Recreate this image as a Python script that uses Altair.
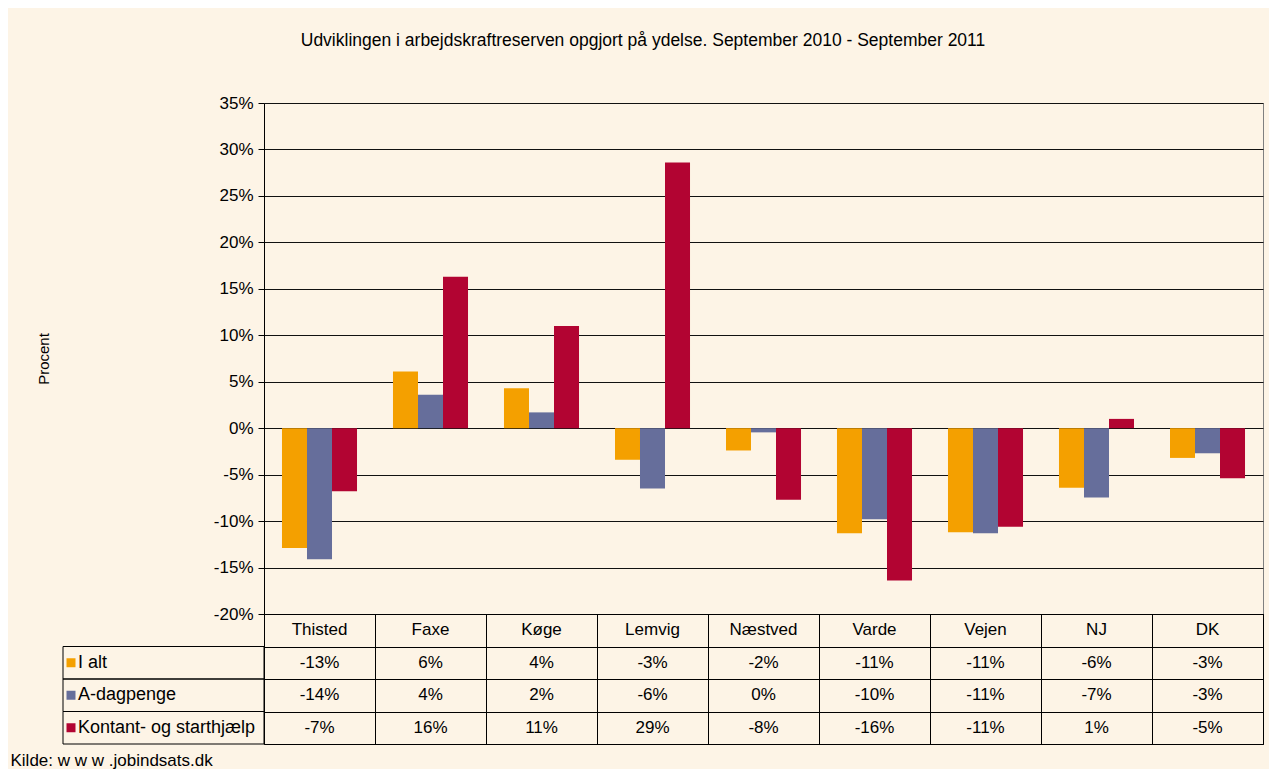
import altair as alt
import pandas as pd

categories = ["Thisted", "Faxe", "Køge", "Lemvig", "Næstved", "Varde", "Vejen", "NJ", "DK"]
series = ["I alt", "A-dagpenge", "Kontant- og starthjælp"]
i_alt = [-12.9, 6.1, 4.3, -3.4, -2.4, -11.3, -11.2, -6.4, -3.2]
a_dagpenge = [-14.1, 3.6, 1.7, -6.5, -0.45, -9.8, -11.3, -7.45, -2.7]
kontant = [-6.8, 16.3, 11.0, 28.6, -7.7, -16.4, -10.6, 1.0, -5.4]
colors = ["#F4A000", "#666E9B", "#B20432"]
y_ticks = [-20, -15, -10, -5, 0, 5, 10, 15, 20, 25, 30, 35]

title_text = "Udviklingen i arbejdskraftreserven opgjort på ydelse. September 2010 - September 2011"
source_text = "Kilde: w w w .jobindsats.dk"

FONT = "Liberation Sans"
FS = 17
BG = "#FDF4E6"
PLOT_W, PLOT_H = 999, 511
LEG_W, TAB_H = 201, 130

values = {"I alt": i_alt, "A-dagpenge": a_dagpenge, "Kontant- og starthjælp": kontant}
rows = []
for s in series:
    for c, v in zip(categories, values[s]):
        rows.append({"cat": c, "series": s, "value": v, "label": f"{int(round(v))}%"})
df = pd.DataFrame(rows)

row_order = ["hdr"] + series
tab_rows = [{"cat": c, "row": "hdr", "text": c} for c in categories]
tab_rows += [{"cat": r["cat"], "row": r["series"], "text": r["label"]} for r in rows]
tab_df = pd.DataFrame(tab_rows)
leg_df = pd.DataFrame({"row": series, "series": series})

color_scale = alt.Scale(domain=series, range=colors)
x_scale = alt.Scale(domain=categories, paddingInner=0.324, paddingOuter=0.162)

bars = alt.Chart(df).mark_bar().encode(
    x=alt.X("cat:N", scale=x_scale, axis=None, sort=categories),
    xOffset=alt.XOffset("series:N", sort=series, scale=alt.Scale(domain=series, paddingInner=0, paddingOuter=0)),
    y=alt.Y("value:Q", scale=alt.Scale(domain=[-20, 35], nice=False, zero=False),
            axis=alt.Axis(values=y_ticks, labelExpr="datum.value + '%'", grid=True,
                          gridColor="#111111", gridWidth=1, domainColor="#000000",
                          tickColor="#000000", tickSize=6, labelFontSize=FS, labelPadding=5,
                          labelColor="#000000", labelFont=FONT,
                          title="Procent", titleFontSize=15, titleFontWeight="normal",
                          titleFont=FONT, titleColor="#000000", titleX=-221, titleY=PLOT_H / 2,
                          titleAngle=270, titleAlign="center", titleBaseline="middle")),
    color=alt.Color("series:N", scale=color_scale, legend=None),
).properties(width=PLOT_W, height=PLOT_H, view=alt.ViewBackground(stroke="#808080", strokeWidth=1))

spacer = alt.Chart(leg_df).mark_point(opacity=0).encode(
    x=alt.value(0), y=alt.value(0)
).properties(width=LEG_W, height=PLOT_H, view=alt.ViewBackground(stroke=None))

y_tab = alt.Y("row:N", sort=row_order, scale=alt.Scale(domain=row_order, paddingInner=0, paddingOuter=0),
              axis=alt.Axis(grid=True, gridColor="#000000", tickBand="extent", labels=False,
                            ticks=False, domain=False, title=None))
x_tab = alt.X("cat:N", sort=categories, scale=alt.Scale(domain=categories, paddingInner=0, paddingOuter=0),
              axis=alt.Axis(grid=True, gridColor="#000000", tickBand="extent", labels=False,
                            ticks=False, domain=False, title=None))

data_table = alt.Chart(tab_df).mark_text(font=FONT, fontSize=FS, color="#000000", baseline="middle").encode(
    x=x_tab, y=y_tab, text="text:N"
).properties(width=PLOT_W, height=TAB_H, view=alt.ViewBackground(stroke="#000000", strokeWidth=1))

y_leg = alt.Y("row:N", sort=row_order, scale=alt.Scale(domain=row_order, paddingInner=0, paddingOuter=0), axis=None)
leg_box = alt.Chart(leg_df).mark_rect(fill=None, stroke="#000000", strokeWidth=1).encode(
    y=y_leg, x=alt.value(0), x2=alt.value(LEG_W)
)
leg_sq = alt.Chart(leg_df).mark_square(size=81, opacity=1).encode(
    y=y_leg, x=alt.value(8),
    color=alt.Color("series:N", scale=color_scale, legend=None),
)
leg_txt = alt.Chart(leg_df).mark_text(font=FONT, fontSize=18, color="#000000", align="left", baseline="middle").encode(
    y=y_leg, x=alt.value(15), text="series:N"
)
legend_table = alt.layer(leg_box, leg_sq, leg_txt).properties(
    width=LEG_W, height=TAB_H, view=alt.ViewBackground(stroke=None),
    title=alt.TitleParams(source_text, orient="bottom", anchor="start", dx=-52, offset=8,
                          fontSize=FS, font=FONT, fontWeight="normal", color="#000000"),
)

chart = alt.concat(spacer, bars, legend_table, data_table, columns=2, spacing=0).properties(
    bounds="flush", align="each",
    title=alt.TitleParams(title_text, anchor="middle", fontSize=17.5, font=FONT, fontWeight="normal",
                          color="#000000", offset=44, dx=6),
    padding={"left": 2, "top": 24, "right": 5, "bottom": 0},
    background=BG,
).configure_view(stroke=None)

chart.save("out.html", embed_options={"renderer": "svg", "actions": False})
